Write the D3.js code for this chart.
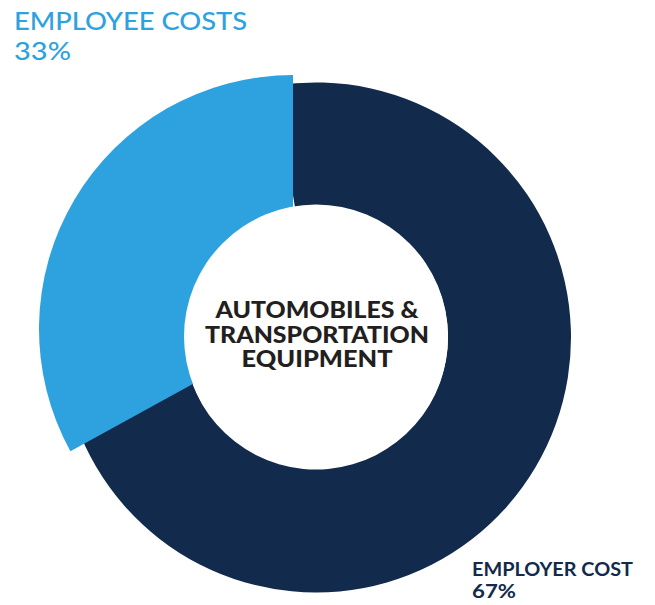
<!DOCTYPE html>
<html>
<head>
<meta charset="utf-8">
<script src="https://cdn.jsdelivr.net/npm/d3@7"></script>
<style>
  html, body { margin: 0; padding: 0; background: #ffffff; }
  svg { display: block; }
</style>
</head>
<body>
<svg id="chart" width="655" height="605"></svg>
<script>
// Cost split for the sector
const categories = ["EMPLOYER COST", "EMPLOYEE COSTS"];
const shares = [67, 33];
const shareLabels = ["67%", "33%"];
const sliceColors = ["#122a4c", "#2da2df"];
const centerLines = ["AUTOMOBILES &", "TRANSPORTATION", "EQUIPMENT"];

const svg = d3.select("#chart");

const cx = 316, cy = 337.5;
const outerR = 255, innerR = 132;
// The smaller slice is pulled out toward the upper left
const pullOut = [0, -23, -8.5];

const pie = d3.pie().sort(null).value(d => d);
const arcs = pie(shares);

const ringArc = d3.arc().innerRadius(innerR).outerRadius(outerR);
const wedgeArc = d3.arc().innerRadius(0).outerRadius(outerR - 1);

// Main slice: drawn slightly past its ends so no gap shows under the pulled-out slice
const overlap = 0.16;
const main = arcs[0];
svg.append("path")
  .attr("transform", `translate(${cx},${cy})`)
  .attr("d", ringArc({startAngle: main.startAngle - overlap, endAngle: main.endAngle + overlap}))
  .attr("fill", sliceColors[0]);

// Pulled-out slice
const small = arcs[1];
svg.append("path")
  .attr("transform", `translate(${cx + pullOut[1]},${cy + pullOut[2]})`)
  .attr("d", wedgeArc(small))
  .attr("fill", sliceColors[1]);

// Hole
svg.append("circle")
  .attr("cx", cx).attr("cy", cy - 1)
  .attr("r", innerR)
  .attr("fill", "#ffffff");

// Centre title
const centerText = svg.append("text")
  .attr("text-anchor", "middle")
  .attr("font-family", "Lato, 'Open Sans', sans-serif")
  .attr("font-weight", 900)
  .attr("font-size", 22)
  .attr("fill", "#231f20");
const centerWidths = [203, 224, 151];
centerLines.forEach((line, i) => {
  centerText.append("tspan")
    .attr("x", cx + 1)
    .attr("y", 318 + i * 24.5)
    .attr("textLength", centerWidths[i])
    .attr("lengthAdjust", "spacingAndGlyphs")
    .text(line);
});

// Slice labels
const labelSpecs = [
  {x: 472, y1: 576, y2: 598, size: 18, w1: 161, w2: 44, weight: 700},
  {x: 14, y1: 30, y2: 60, size: 25, w1: 233, w2: 57, weight: 500}
];
categories.forEach((name, i) => {
  const s = labelSpecs[i];
  const t = svg.append("text")
    .attr("font-family", "Lato, 'Open Sans', sans-serif")
    .attr("font-weight", s.weight)
    .attr("font-size", s.size)
    .attr("fill", sliceColors[i]);
  t.append("tspan").attr("x", s.x).attr("y", s.y1)
    .attr("textLength", s.w1).attr("lengthAdjust", "spacingAndGlyphs")
    .text(name);
  t.append("tspan").attr("x", s.x).attr("y", s.y2)
    .attr("textLength", s.w2).attr("lengthAdjust", "spacingAndGlyphs")
    .text(shareLabels[i]);
});
</script>
</body>
</html>
